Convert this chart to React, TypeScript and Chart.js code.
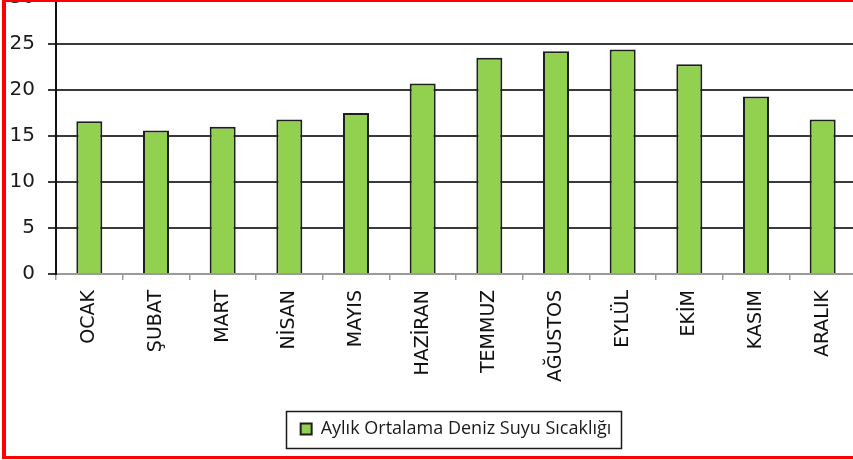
import React, { useEffect, useRef } from "react";
import { Chart, registerables } from "chart.js";

Chart.register(...registerables);

const categories = [
  "OCAK",
  "ŞUBAT",
  "MART",
  "NİSAN",
  "MAYIS",
  "HAZİRAN",
  "TEMMUZ",
  "AĞUSTOS",
  "EYLÜL",
  "EKİM",
  "KASIM",
  "ARALIK",
];
const seaTemps = [16.6, 15.6, 16.0, 16.8, 17.5, 20.7, 23.5, 24.2, 24.4, 22.8, 19.3, 16.8];
const seriesLabel = "Aylık Ortalama Deniz Suyu Sıcaklığı";
const yMin = 0;
const yMax = 30;
const yStep = 5;

const legendBorder = {
  id: "legendBorder",
  afterDraw(chart: any) {
    const lg = chart.legend;
    if (!lg || !lg.legendHitBoxes || !lg.legendHitBoxes.length) return;
    const hb = lg.legendHitBoxes[0];
    const ctx = chart.ctx;
    ctx.save();
    ctx.strokeStyle = "#1a1a1a";
    ctx.lineWidth = 1.5;
    const cy = hb.top + hb.height / 2;
    ctx.strokeRect(Math.round(hb.left - 15) + 0.5, Math.round(cy - 18) + 0.5, Math.round(hb.width + 24), 37);
    ctx.restore();
  },
};

export default function App() {
  const ref = useRef<HTMLCanvasElement | null>(null);

  useEffect(() => {
    if (!ref.current) return;
    const chart = new Chart(ref.current, {
      type: "bar",
      data: {
        labels: categories,
        datasets: [
          {
            label: seriesLabel,
            data: seaTemps,
            backgroundColor: "#92D050",
            borderColor: "#1e1e1e",
            borderWidth: 2,
            barPercentage: 0.39,
            categoryPercentage: 1,
          },
        ],
      },
      options: {
        animation: false,
        responsive: false,
        maintainAspectRatio: false,
        layout: { padding: { left: 0, right: 14, top: 0, bottom: 12 } },
        plugins: {
          tooltip: { enabled: false },
          legend: {
            display: true,
            position: "bottom",
            fullSize: false,
            labels: {
              boxWidth: 11,
              boxHeight: 11,
              padding: 10,
              color: "#1a1a1a",
              font: { family: "'Open Sans', sans-serif", size: 18 },
            },
          },
        },
        scales: {
          x: {
            afterFit(scale: any) {
              scale.height = 136;
            },
            border: { display: true, color: "#9a9a9a", width: 2 },
            grid: {
              display: true,
              drawOnChartArea: false,
              drawTicks: true,
              tickLength: 6,
              color: "#9a9a9a",
              lineWidth: 1.5,
              offset: true,
            },
            ticks: {
              minRotation: 90,
              maxRotation: 90,
              autoSkip: false,
              padding: 10,
              color: "#111111",
              font: { family: "'DejaVu Sans', sans-serif", size: 19 },
            },
          },
          y: {
            min: yMin,
            max: yMax,
            afterFit(scale: any) {
              scale.width = 56;
            },
            border: { display: true, color: "#111111", width: 2 },
            grid: {
              color: "#3a3a3a",
              lineWidth: 2,
              tickLength: 8,
              drawTicks: true,
            },
            ticks: {
              stepSize: yStep,
              padding: 13,
              color: "#1a1a1a",
              font: { family: "'DejaVu Sans', sans-serif", size: 20 },
            },
          },
        },
      },
      plugins: [legendBorder],
    } as any);
    return () => chart.destroy();
  }, []);

  return (
    <div
      style={{
        position: "fixed",
        left: 0,
        top: 0,
        width: 853,
        height: 460,
        overflow: "hidden",
        background: "#ffffff",
      }}
    >
      <canvas
        ref={ref}
        width={870}
        height={487}
        style={{ position: "absolute", left: 0, top: -27, width: 870, height: 487 }}
      />
      <div
        style={{
          position: "absolute",
          left: 2,
          top: -1,
          width: 900,
          height: 460,
          boxSizing: "border-box",
          borderTop: "3px solid #ff0000",
          borderBottom: "3px solid #ff0000",
          borderLeft: "4px solid #ff0000",
          pointerEvents: "none",
        }}
      />
    </div>
  );
}
